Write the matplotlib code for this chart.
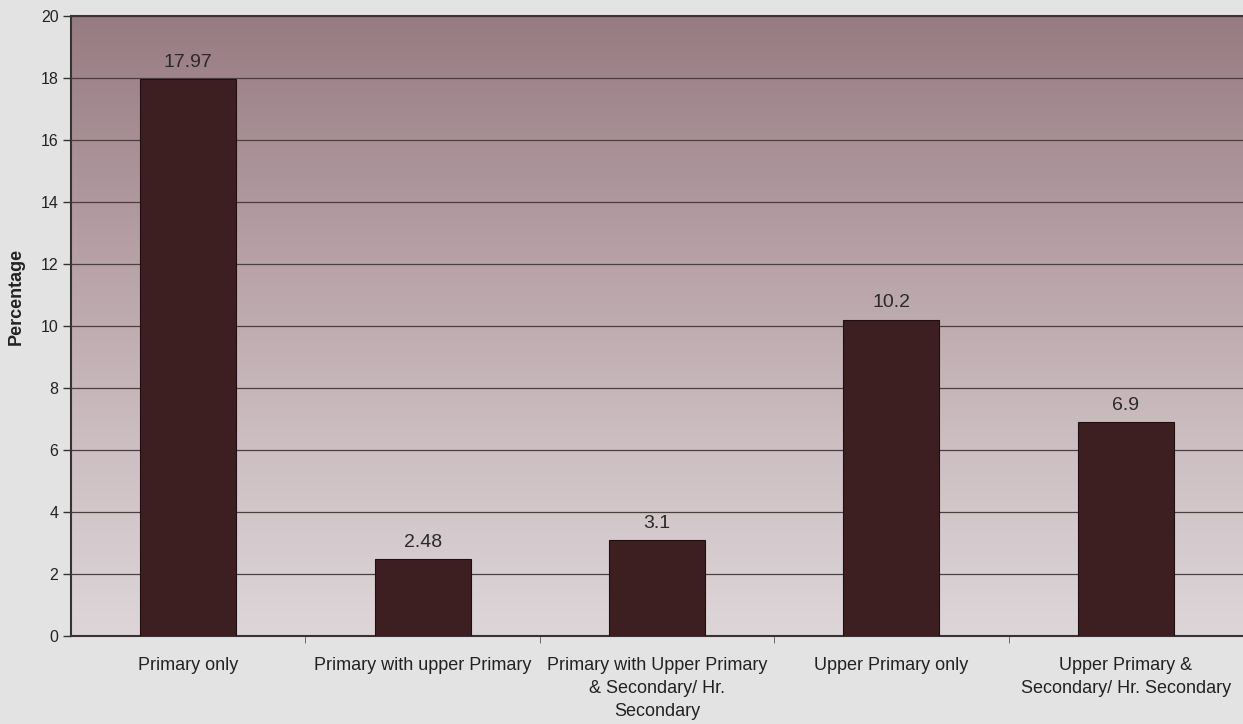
import numpy as np
import matplotlib.pyplot as plt
from matplotlib.colors import LinearSegmentedColormap

plt.rcParams['font.family'] = ['Liberation Sans', 'DejaVu Sans']

categories = [
    "Primary only",
    "Primary with upper Primary",
    "Primary with Upper Primary\n& Secondary/ Hr.\nSecondary",
    "Upper Primary only",
    "Upper Primary &\nSecondary/ Hr. Secondary",
]
values = [17.97, 2.48, 3.1, 10.2, 6.9]
value_labels = ["17.97", "2.48", "3.1", "10.2", "6.9"]
yticks = [0, 2, 4, 6, 8, 10, 12, 14, 16, 18, 20]

fig = plt.figure(figsize=(12.43, 7.24), dpi=100, facecolor="#e4e3e3")
ax = fig.add_axes([0.0571, 0.1215, 0.9429, 0.8565])

# gradient background of the plot area
bg = LinearSegmentedColormap.from_list(
    "bg", ["#ddd6d8", "#cbbcc0", "#b29ca1", "#977b82"])
grad = np.linspace(0, 1, 256).reshape(-1, 1)
ax.imshow(grad, cmap=bg, aspect="auto", origin="lower",
          extent=[0, 1, 0, 1], transform=ax.transAxes, zorder=0)

x = np.arange(len(categories))
ax.bar(x, values, width=0.41, color="#3e1f21", edgecolor="#1e1012",
       linewidth=0.8, zorder=3)

for xi, v, lab in zip(x, values, value_labels):
    ax.annotate(lab, (xi, v), xytext=(0, 6), textcoords="offset points",
                ha="center", va="bottom", fontsize=14, color="#2a2a2a")

ax.set_xlim(-0.5, len(categories) - 0.5)
ax.set_ylim(0, 20)
ax.set_yticks(yticks)
ax.tick_params(axis="y", labelsize=11.5, length=6, width=1, colors="#333333",
               labelcolor="#222222", pad=3)
ax.yaxis.grid(True, color="#4a4040", linewidth=0.9, zorder=1)
ax.set_axisbelow(True)

ax.set_xticks(x)
ax.set_xticklabels(categories, fontsize=13, color="#222222",
                   linespacing=1.45)
ax.tick_params(axis="x", length=0, pad=15)
ax.set_xticks(np.arange(0.5, len(categories) - 0.5), minor=True)
ax.tick_params(axis="x", which="minor", length=5, color="#555555")

ax.set_ylabel("Percentage", fontsize=13, fontweight="bold", color="#222222",
              va="center")
ax.yaxis.set_label_coords(-0.047, 0.547)

for side in ["left", "bottom", "top"]:
    ax.spines[side].set_color("#3a3232")
    ax.spines[side].set_linewidth(1.5)
ax.spines["right"].set_visible(False)

fig.savefig("out.png", dpi=100, facecolor=fig.get_facecolor())
plt.close()
